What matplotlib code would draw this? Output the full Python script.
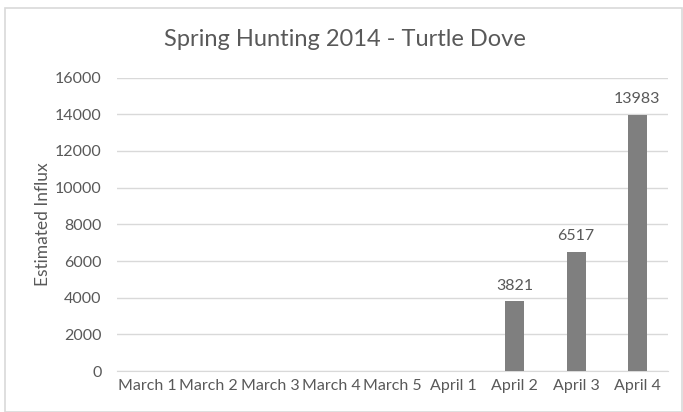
import matplotlib.pyplot as plt
from matplotlib.patches import Rectangle

# datos del grafico
fechas = ['March 1', 'March 2', 'March 3', 'March 4', 'March 5',
          'April 1', 'April 2', 'April 3', 'April 4']
influjo = [0, 0, 0, 0, 0, 0, 3821, 6517, 13983]
ticks_y = [0, 2000, 4000, 6000, 8000, 10000, 12000, 14000, 16000]

plt.rcParams['font.family'] = ['Lato', 'DejaVu Sans']
gris_texto = '#595959'

fig = plt.figure(figsize=(6.83, 4.12), dpi=100)
ax = fig.add_axes([0.171, 0.0995, 0.807, 0.712])

# borde del area del grafico
fig.patches.append(Rectangle((5 / 683, 0.0), 677 / 683, 1 - 8 / 412,
                             transform=fig.transFigure, fill=False,
                             edgecolor='#d9d9d9', linewidth=1.2))

x = range(len(fechas))
barras = ax.bar(x, influjo, width=0.31, color='#7f7f7f', zorder=3)

for xi, v in zip(x, influjo):
    if v > 0:
        ax.text(xi, v + 450, str(v), ha='center', va='bottom',
                fontsize=11.5, color=gris_texto)

ax.set_xlim(-0.5, len(fechas) - 0.5)
ax.set_ylim(0, 16000)
ax.set_yticks(ticks_y)
ax.set_xticks(list(x))
ax.set_xticklabels(fechas)
ax.tick_params(axis='both', length=0, labelsize=11.5, colors=gris_texto)
ax.tick_params(axis='y', pad=11)
ax.tick_params(axis='x', pad=6)
ax.grid(axis='y', color='#d9d9d9', linewidth=1, zorder=0)

for lado in ['top', 'right', 'left']:
    ax.spines[lado].set_visible(False)
ax.spines['bottom'].set_color('#d9d9d9')

ax.set_ylabel('Estimated Influx', fontsize=12.5, color=gris_texto, labelpad=3)
fig.text(0.505, 0.903, 'Spring Hunting 2014 - Turtle Dove', ha='center', va='center',
         fontsize=17, color=gris_texto)

plt.savefig('out.png', dpi=100)
